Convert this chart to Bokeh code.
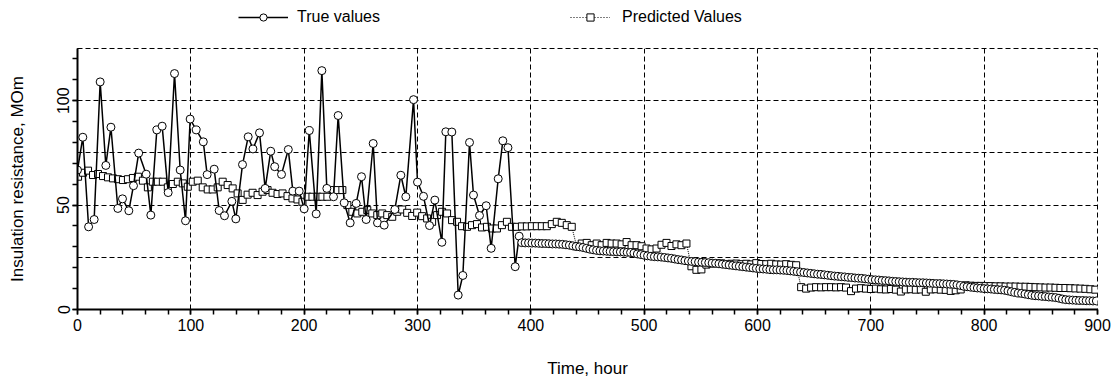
import numpy as np
from bokeh.plotting import figure
from bokeh.layouts import column
from bokeh.models import Range1d, SingleIntervalTicker, Legend, LegendItem
from bokeh.embed import file_html
from bokeh.resources import INLINE

# ---- data -------------------------------------------------------------
# True values: irregular early measurements (hour, MOm)
true_t_early = [0, 4.7, 9.8, 14.7, 20, 25, 29.5, 35.6, 39.7, 45.3,
                49.4, 54, 60.6, 64.7, 70, 74.7, 80, 85.6, 90.6, 95.3,
                99.4, 104.7, 111, 114.4, 120.6, 125, 129.7, 136.2, 139.7, 145.6,
                150.6, 154.8, 160.6, 165.6, 170.5, 174, 180, 186, 190, 195.6,
                200, 204.5, 210.6, 215.6, 220, 225.9, 230, 235.3, 240.6, 245.9,
                250.6, 254.7, 260.9, 264.7, 270.6, 280, 285.3, 289.7, 296.5, 300,
                305.3, 310.6, 315.3, 321.5, 325, 330.3, 335.9, 340, 345.9, 349.4,
                354.7, 360.6, 365, 371.2, 375.3, 379.8, 386.2, 389.7]
true_v_early = [66.8, 82.5, 39.6, 43.1, 109, 69, 87.3, 48.4, 53, 47.3,
                59.3, 74.9, 64.8, 45.2, 86, 87.8, 56, 113, 66.8, 42.5,
                91.2, 86, 80.3, 64.6, 67.2, 47.4, 44.9, 51.8, 43.4, 69.4,
                82.7, 76.9, 84.6, 58, 75.8, 68.4, 64.7, 76.6, 56.7, 56.7,
                48.2, 85.7, 45.8, 114.4, 58, 54, 92.9, 51.1, 41.5, 50.8,
                63.6, 43.1, 79.5, 41.5, 40.4, 47.9, 64.3, 54, 100.5, 61,
                54.2, 40.2, 52.4, 32.2, 85.1, 85, 6.9, 16.3, 80, 54.8,
                45, 49.7, 29.3, 62.6, 80.8, 77.5, 20.5, 35.1]

# True values: dense later measurements, every 3 h from 392 h
true_late_start = 392
true_late_step = 3
true_v_late = [32.0, 31.9, 31.9, 31.8, 31.8, 31.7, 31.6, 31.6, 31.5, 31.4,
               31.4, 31.3, 31.2, 31.0, 30.8, 30.5, 30.2, 30.0, 29.7, 29.3,
               28.9, 28.6, 28.3, 28.1, 28.0, 27.9, 27.8, 27.7, 27.6, 27.6,
               27.5, 27.4, 27.3, 27.0, 26.6, 26.3, 26.0, 25.7, 25.5, 25.3,
               25.2, 25.1, 24.9, 24.7, 24.5, 24.2, 23.9, 23.7, 23.4, 23.2,
               23.0, 22.9, 22.7, 22.6, 22.5, 22.4, 22.2, 22.1, 21.9, 21.7,
               21.5, 21.3, 21.1, 20.9, 20.7, 20.5, 20.3, 20.1, 19.9, 19.7,
               19.5, 19.4, 19.3, 19.1, 19.0, 19.0, 18.9, 18.8, 18.7, 18.5,
               18.3, 18.1, 17.9, 17.7, 17.5, 17.3, 17.1, 16.9, 16.8, 16.6,
               16.4, 16.2, 16.0, 15.9, 15.7, 15.6, 15.4, 15.3, 15.1, 15.0,
               14.9, 14.7, 14.5, 14.3, 14.2, 14.1, 13.9, 13.8, 13.7, 13.5,
               13.4, 13.3, 13.2, 13.1, 13.0, 13.0, 12.9, 12.8, 12.8, 12.7,
               12.6, 12.5, 12.4, 12.4, 12.3, 12.2, 12.1, 12.0, 11.8, 11.5,
               11.1, 10.9, 10.7, 10.5, 10.3, 10.2, 10.0, 9.9, 9.8, 9.6,
               9.5, 9.4, 9.2, 8.9, 8.5, 8.2, 7.9, 7.7, 7.4, 7.1,
               6.8, 6.6, 6.5, 6.3, 6.2, 6.0, 5.9, 5.7, 5.4, 5.0,
               4.7, 4.6, 4.5, 4.4, 4.3, 4.3, 4.2, 4.2, 4.1, 4.1]

# Predicted values, every 4.4 h from 0.5 h
pred_start = 0.5
pred_step = 4.4
pred_v = [63.6, 65.5, 66.5, 64.4, 64.9, 63.9, 63.3, 62.8, 62.4, 62.0,
          62.4, 63.0, 63.6, 61.7, 58.5, 61.2, 61.2, 61.2, 58.5, 60.1,
          61.2, 60.4, 58.8, 61.2, 61.7, 58.5, 57.5, 57.5, 58.5, 61.2,
          59.6, 58.0, 55.6, 52.5, 55.0, 55.9, 54.8, 56.4, 57.2, 55.9,
          55.3, 55.6, 54.3, 53.2, 52.7, 51.6, 54.0, 54.0, 54.0, 54.0,
          54.0, 57.2, 57.2, 57.2, 50.0, 46.8, 46.0, 46.8, 47.6, 46.0,
          45.2, 46.0, 45.2, 44.4, 46.8, 47.9, 46.3, 44.8, 46.4, 44.7,
          43.6, 42.0, 45.2, 46.8, 46.0, 42.8, 42.0, 39.9, 39.6, 40.4,
          40.9, 39.3, 39.6, 38.8, 38.8, 40.4, 42.0, 39.6, 39.6, 39.8,
          39.8, 39.9, 39.9, 39.9, 39.9, 40.9, 42.0, 41.5, 40.4, 39.6,
          30.2, 31.6, 31.9, 30.8, 31.6, 30.8, 31.9, 31.6, 31.6, 31.2,
          32.3, 30.8, 30.8, 30.3, 29.2, 28.8, 29.2, 31.0, 31.9, 30.4,
          31.2, 30.8, 31.6, 20.7, 19.0, 19.2, 21.5, 22.0, 22.2, 22.1,
          21.8, 21.9, 22.0, 21.7, 21.9, 21.6, 22.2, 21.8, 21.7, 21.9,
          21.6, 21.5, 21.7, 21.4, 21.2, 10.7, 10.0, 10.5, 10.7, 10.6,
          10.7, 10.7, 10.6, 10.7, 10.5, 8.8, 10.0, 10.2, 10.0, 9.8,
          10.0, 9.7, 9.6, 9.8, 9.5, 8.6, 9.6, 9.7, 9.5, 9.6,
          8.5, 9.6, 9.7, 9.5, 9.4, 8.9, 9.2, 9.6, 11.6, 11.4,
          11.3, 11.3, 11.2, 11.2, 11.1, 11.1, 11.0, 11.0, 11.0, 10.9,
          10.9, 10.8, 10.7, 10.6, 10.5, 10.5, 10.4, 10.3, 10.3, 10.2,
          10.1, 10.0, 9.9, 9.7, 9.5]

x_ticks_major = 100
y_ticks_major = 50
series_labels = ["True values", "Predicted Values"]
x_label = "Time, hour"
y_label = "Insulation resistance, MOm"

# ---- build series ------------------------------------------------------
true_t = list(true_t_early) + [true_late_start + true_late_step * i for i in range(len(true_v_late))]
true_v = list(true_v_early) + list(true_v_late)
pred_t = [pred_start + pred_step * i for i in range(len(pred_v))]

FONT = "Liberation Sans"
W = 1116
LEG_H = 40
LEFT = 77

# ---- main chart --------------------------------------------------------
p = figure(frame_width=1020, frame_height=261,
           x_range=Range1d(0, 900), y_range=Range1d(0, 125),
           output_backend="svg", toolbar_location=None,
           min_border_left=LEFT, min_border_right=19,
           min_border_top=48 - LEG_H, min_border_bottom=74,
           background_fill_color="white", border_fill_color="white")

p.outline_line_color = "black"
p.outline_line_width = 1
p.outline_line_dash = "5 3"

p.xaxis.ticker = SingleIntervalTicker(interval=x_ticks_major, num_minor_ticks=5)
p.yaxis.ticker = SingleIntervalTicker(interval=y_ticks_major, num_minor_ticks=5)
p.xgrid.ticker = SingleIntervalTicker(interval=100)
p.ygrid.ticker = SingleIntervalTicker(interval=25)
for g in (p.xgrid, p.ygrid):
    g.grid_line_color = "black"
    g.grid_line_dash = "5 3"
    g.grid_line_width = 1
    g.grid_line_alpha = 1

for ax in (p.xaxis, p.yaxis):
    ax.axis_line_color = "black"
    ax.axis_line_width = 2
    ax.major_tick_line_color = "black"
    ax.minor_tick_line_color = "black"
    ax.major_tick_line_width = 1.5
    ax.minor_tick_line_width = 1.5
    ax.major_tick_in = 0
    ax.major_tick_out = 5
    ax.minor_tick_in = 0
    ax.minor_tick_out = 5
    ax.major_label_text_font = FONT
    ax.major_label_text_font_size = "16px"
    ax.major_label_text_color = "black"
    ax.axis_label_text_font = FONT
    ax.axis_label_text_font_size = "17px"
    ax.axis_label_text_font_style = "normal"
    ax.axis_label_text_color = "black"

p.xaxis.axis_label = x_label
p.yaxis.axis_label = y_label
p.yaxis.major_label_orientation = "vertical"
p.xaxis.major_label_standoff = 4
p.yaxis.major_label_standoff = 3
p.xaxis.axis_label_standoff = 25
p.yaxis.axis_label_standoff = 28

# predicted series
p.line(pred_t, pred_v, line_color="black", line_width=1, line_dash="1 1")
p.scatter(pred_t, pred_v, marker="square", size=7, fill_color="white",
          line_color="black", line_width=1)
# true series
p.line(true_t, true_v, line_color="black", line_width=1.5)
p.scatter(true_t, true_v, marker="circle", size=8, fill_color="white",
          line_color="black", line_width=1)

# ---- legend strip above the chart -------------------------------------
lf = figure(width=W, height=LEG_H, x_range=Range1d(0, 1), y_range=Range1d(0, 1),
            x_axis_type=None, y_axis_type=None,
            output_backend="svg", toolbar_location=None,
            min_border=0, min_border_left=0, min_border_right=0,
            min_border_top=0, min_border_bottom=0,
            background_fill_color="white", border_fill_color="white")
lf.grid.visible = False
lf.outline_line_color = None

lt = lf.line([5, 6], [5, 5], line_color="black", line_width=1.5)
ls = lf.scatter([5], [5], marker="circle", size=5, fill_color="white",
                line_color="black", line_width=1)
lp = lf.line([5, 6], [5, 5], line_color="black", line_width=1.2, line_dash="1 2")
lq = lf.scatter([5], [5], marker="square", size=6, fill_color="white",
                line_color="black", line_width=1)

common = dict(orientation="horizontal", glyph_height=18, label_height=18,
              padding=0, margin=0, border_line_alpha=0, background_fill_alpha=0,
              label_text_font=FONT, label_text_font_size="16px",
              label_text_color="black")
# the column aligns this strip's frame with the chart frame (left = LEFT px)
leg1 = Legend(items=[LegendItem(label=series_labels[0], renderers=[lt, ls])],
              location=(238 - LEFT, 14), glyph_width=50, label_standoff=9, **common)
leg2 = Legend(items=[LegendItem(label=series_labels[1], renderers=[lp, lq])],
              location=(570 - LEFT, 14), glyph_width=40, label_standoff=12, **common)
lf.add_layout(leg1, "center")
lf.add_layout(leg2, "center")

layout = column(lf, p, spacing=0)
open("out.html", "w").write(file_html(layout, INLINE))
